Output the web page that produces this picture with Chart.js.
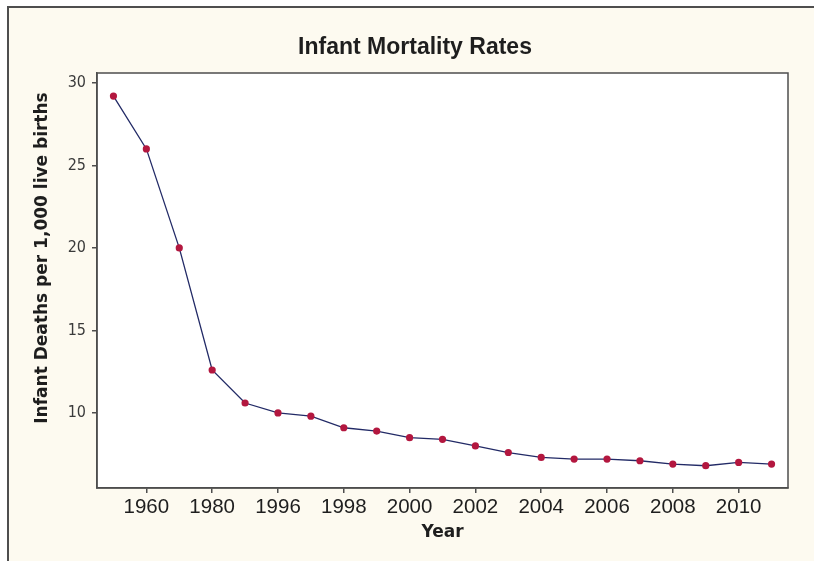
<!DOCTYPE html>
<html>
<head>
<meta charset="utf-8">
<script src="https://cdn.jsdelivr.net/npm/chart.js@4/dist/chart.umd.min.js"></script>
<style>
  html, body { margin: 0; padding: 0; background: #ffffff; }
  #wrap { width: 814px; height: 561px; position: relative; }
  canvas { display: block; }
</style>
</head>
<body>
<div id="wrap"><canvas id="c" width="814" height="561"></canvas></div>
<script>
const years = ["1950","1960","1970","1980","1990","1996","1997","1998","1999","2000","2001","2002","2003","2004","2005","2006","2007","2008","2009","2010","2011"];
const rates = [29.2, 26.0, 20.0, 12.6, 10.6, 10.0, 9.8, 9.1, 8.9, 8.5, 8.4, 8.0, 7.6, 7.3, 7.2, 7.2, 7.1, 6.9, 6.8, 7.0, 6.9];
const yTicks = [10, 15, 20, 25, 30];
const chartTitle = "Infant Mortality Rates";
const xTitle = "Year";
const yTitle = "Infant Deaths per 1,000 live births";

const CREAM = '#fdfaf0';
const FRAME = '#4e4e4e';

const bgPlugin = {
  id: 'bg',
  beforeDraw(chart) {
    const ctx = chart.ctx, a = chart.chartArea;
    ctx.save();
    ctx.fillStyle = '#ffffff';
    ctx.fillRect(0, 0, chart.width, chart.height);
    ctx.fillStyle = CREAM;
    ctx.fillRect(8, 7, chart.width - 8, chart.height - 7);
    ctx.strokeStyle = FRAME;
    ctx.lineWidth = 2;
    ctx.beginPath();
    ctx.moveTo(8, chart.height);
    ctx.lineTo(8, 7);
    ctx.lineTo(chart.width, 7);
    ctx.stroke();
    ctx.fillStyle = '#ffffff';
    ctx.fillRect(a.left, a.top, a.right - a.left, a.bottom - a.top);
    ctx.restore();
  },
  afterDraw(chart) {
    const ctx = chart.ctx, a = chart.chartArea;
    ctx.save();
    ctx.strokeStyle = FRAME;
    ctx.lineWidth = 1.5;
    ctx.strokeRect(a.left, a.top, a.right - a.left, a.bottom - a.top);
    // y axis title
    ctx.translate(43, 258);
    ctx.rotate(-Math.PI / 2);
    ctx.font = 'bold 17px "DejaVu Sans"';
    ctx.fillStyle = '#1e1e1e';
    ctx.textAlign = 'center';
    ctx.textBaseline = 'middle';
    ctx.fillText(yTitle, 0, 0);
    ctx.restore();
  }
};

new Chart(document.getElementById('c'), {
  type: 'line',
  data: {
    labels: years,
    datasets: [{
      data: rates,
      yAxisID: 'y',
      borderColor: '#222a66',
      borderWidth: 1.3,
      pointBackgroundColor: '#b3173f',
      pointBorderColor: '#b3173f',
      pointRadius: 3.6,
      pointBorderWidth: 0,
      tension: 0,
      fill: false
    }]
  },
  options: {
    responsive: false,
    animation: false,
    devicePixelRatio: 1,
    layout: { padding: { left: 16, right: 0, top: 0, bottom: 0 } },
    plugins: {
      legend: { display: false },
      tooltip: { enabled: false },
      title: {
        display: true,
        text: chartTitle,
        color: '#1e1e1e',
        font: { family: '"Liberation Sans", Arial, sans-serif', size: 23, weight: 'bold' },
        padding: { top: 33.5, bottom: 11.9 }
      }
    },
    scales: {
      x: {
        type: 'category',
        offset: true,
        grid: { display: true, drawOnChartArea: false, drawTicks: true, tickLength: 5, color: FRAME, lineWidth: 1.5, offset: false },
        border: { display: true, color: FRAME, width: 1.5 },
        ticks: {
          autoSkip: false, maxRotation: 0, padding: 2, color: '#1e1e1e',
          font: { family: '"Liberation Sans", Arial, sans-serif', size: 20.5 }
        },
        afterBuildTicks(scale) {
          scale.ticks = scale.ticks.filter((t, i) => i % 2 === 1);
        },
        afterFit(scale) { scale.height = 73; },
        title: {
          display: true, text: xTitle, color: '#1e1e1e',
          font: { family: '"DejaVu Sans", sans-serif', size: 17, weight: 'bold' },
          padding: { top: 0, bottom: 18 }
        }
      },
      y: {
        type: 'linear',
        position: 'left',
        min: 5.45,
        max: 30.6,
        grid: { display: true, drawOnChartArea: false, drawTicks: true, tickLength: 5, color: FRAME, lineWidth: 1.5 },
        border: { display: true, color: FRAME, width: 1.5 },
        ticks: {
          padding: 6, color: '#3a3a3a',
          font: { family: '"Liberation Sans Narrow", "DejaVu Sans Condensed", sans-serif', size: 16 }
        },
        afterBuildTicks(scale) {
          scale.ticks = yTicks.map(v => ({ value: v }));
        },
        afterFit(scale) { scale.width = 81; }
      },
      yRight: {
        type: 'linear',
        position: 'right',
        display: true,
        grid: { display: false, drawTicks: false },
        border: { display: false },
        ticks: { display: false },
        afterFit(scale) { scale.width = 26; }
      }
    }
  },
  plugins: [bgPlugin]
});
</script>
</body>
</html>
